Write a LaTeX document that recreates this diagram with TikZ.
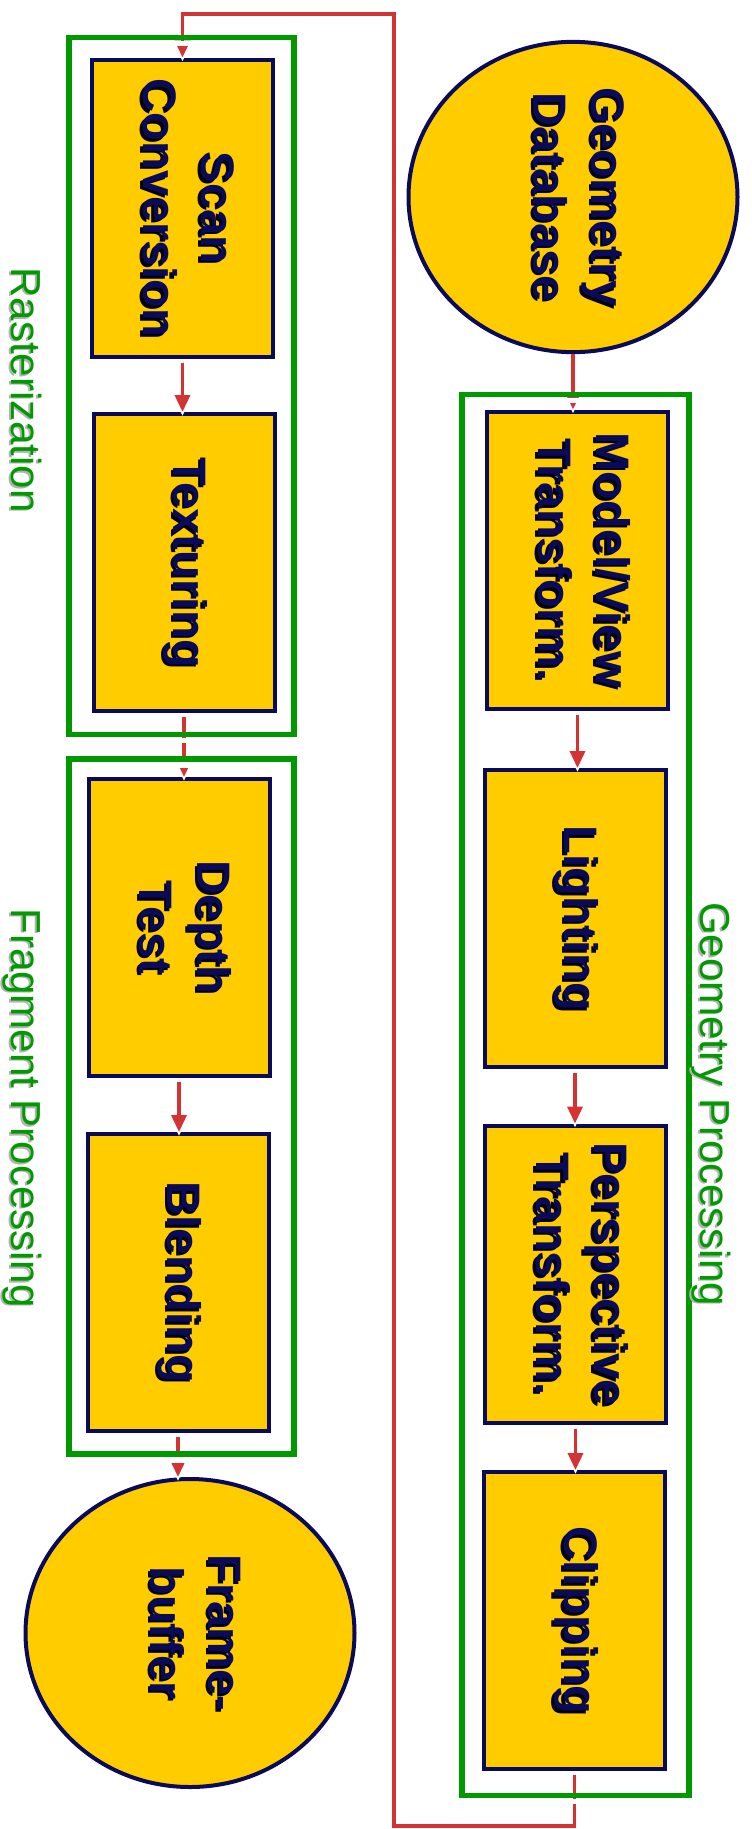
\documentclass[tikz,border=0pt]{standalone}
\usepackage{fontspec}
\setmainfont{Liberation Sans}
\usepackage{graphicx}
\usetikzlibrary{arrows.meta,shapes.geometric}

\definecolor{gold}{HTML}{FFCC00}
\definecolor{navy}{HTML}{0A0A5A}
\definecolor{stagegreen}{HTML}{009900}
\definecolor{flowred}{HTML}{D33333}

% text with a drop shadow: #1 shadow colour, #2 offset, #3 text
\newcommand\shadowed[3]{\makebox[0pt][l]{\hspace*{#2}\raisebox{-#2}{\color{#1}#3}}#3}
% caption of a pipeline stage, running down the page
\newcommand\boxcap[1]{\rotatebox{-90}{\shadowed{black}{2.5pt}{\begin{tabular}{@{}c@{}}#1\end{tabular}}}}
% caption of a group of stages
\newcommand\groupcap[1]{\shadowed{black!30}{1.5pt}{#1}}

\tikzset{
  stage/.style={rectangle, draw=navy, line width=4pt, fill=gold, text=navy,
    minimum width=181pt, minimum height=297pt, inner sep=0pt,
    font=\fontsize{47}{58}\selectfont\bfseries},
  store/.style={stage, ellipse, minimum width=329pt, minimum height=308pt},
  flow/.style={draw=flowred, line width=3.5pt, shorten <=4pt,
    -{Triangle[length=17pt,width=15pt]},
    preaction={draw=white, line width=3.5pt, -{Triangle[length=17pt,width=15pt]},
      transform canvas={yshift=-4pt}}},
  groupframe/.style={draw=stagegreen, line width=5.5pt,
    preaction={draw=white, line width=5.5pt, transform canvas={yshift=-6pt}}},
  grouplabel/.style={text=stagegreen, rotate=-90, anchor=base, inner sep=0pt,
    font=\fontsize{42}{50}\selectfont},
}

\begin{document}
\begin{tikzpicture}[x=1pt,y=-1pt]
\useasboundingbox (0,0) rectangle (752,1829);

% data stores
\node[store] (geodb) at (573,197) {\boxcap{Geometry\\Database}};
\node[store] (fb) at (190,1633) {\boxcap{Frame-\\buffer}};

% geometry stages
\node[stage] (mv) at (577.5,560) {\boxcap{Model/View\\Transform.}};
\node[stage] (light) at (575,918.5) {\boxcap{Lighting}};
\node[stage] (persp) at (575.5,1274) {\boxcap{Perspective\\Transform.}};
\node[stage] (clip) at (574.5,1620.5) {\boxcap{Clipping}};

% raster and fragment stages
\node[stage] (scan) at (182.5,208) {\boxcap{Scan\\Conversion}};
\node[stage] (tex) at (184,562.5) {\boxcap{Texturing}};
\node[stage] (depth) at (179,927.5) {\boxcap{Depth\\Test}};
\node[stage] (blend) at (178,1282.5) {\boxcap{Blending}};

% data flow
\draw[flow, shorten <=0pt] (geodb.south) -- (geodb.south |- mv.north);
\draw[flow] (mv.south) -- (mv.south |- light.north);
\draw[flow] (light.south) -- (light.south |- persp.north);
\draw[flow] (persp.south) -- (persp.south |- clip.north);
\coordinate (loopbr) at (394,1826);
\coordinate (looptr) at (394,14);
\draw[flow] (clip.south) |- (loopbr) -- (looptr) -| (scan.north);
\draw[flow] (scan.south) -- (scan.south |- tex.north);
\draw[flow] (tex.south) -- (tex.south |- depth.north);
\draw[flow] (depth.south) -- (depth.south |- blend.north);
\draw[flow] (blend.south) -- (blend.south |- fb.north);

% stage groups
\draw[groupframe] (69,37.5) rectangle (294,734.5);
\draw[groupframe] (69,759) rectangle (294,1454);
\draw[groupframe] (462,394.5) rectangle (689,1795.5);

\node[grouplabel] (rasterlbl) at (11,390) {\groupcap{Rasterization}};
\node[grouplabel] (fraglbl) at (11,1108) {\groupcap{Fragment Processing}};
\node[grouplabel] (geomlbl) at (700,1104) {\groupcap{Geometry Processing}};
\end{tikzpicture}
\end{document}
